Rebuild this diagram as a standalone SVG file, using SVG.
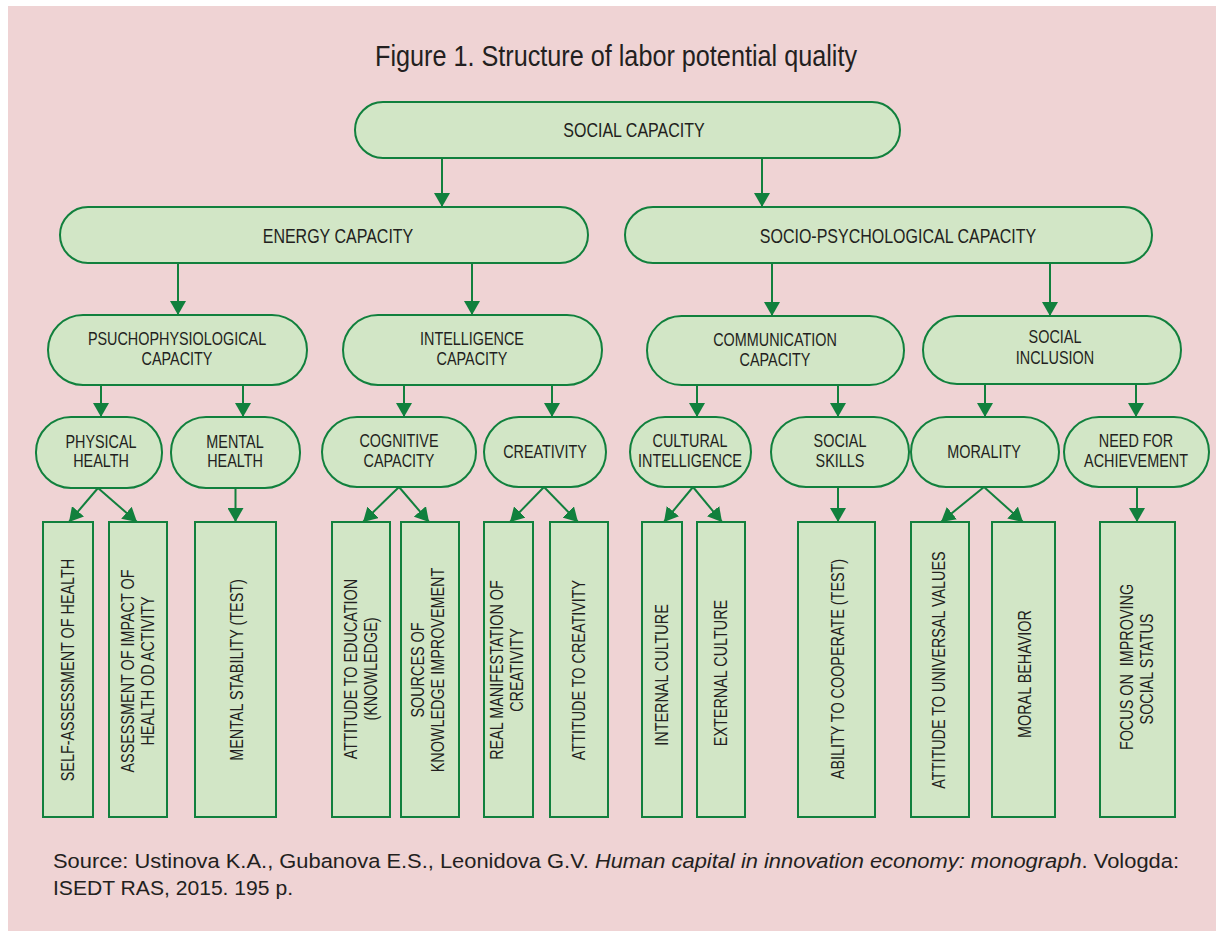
<svg xmlns="http://www.w3.org/2000/svg" width="1216" height="931" viewBox="0 0 1216 931">
<defs>
<style>
.bg{fill:#efd3d4}
.n{fill:#d2e6c6;stroke:#11803d;stroke-width:2}
.t{font-family:"Liberation Sans",Arial,Helvetica,sans-serif;font-size:18px;fill:#231f20;text-anchor:middle}
.t0{font-size:20px}
.c{stroke:#11803d;stroke-width:2;fill:none;marker-end:url(#ah)}
.src{font-family:"Liberation Sans",Arial,Helvetica,sans-serif;font-size:20.5px;fill:#231f20}
</style>
<marker id="ah" viewBox="0 0 14 16" refX="14" refY="8" markerWidth="14" markerHeight="16" markerUnits="userSpaceOnUse" orient="auto">
<path d="M0,0 L14,8 L0,16 z" fill="#11803d"/>
</marker>
</defs>
<rect x="0" y="0" width="1216" height="931" fill="#ffffff"/>
<rect class="bg" x="8" y="6" width="1208" height="925"/>
<text class="t" style="font-size:29px" x="616" y="66" textLength="482" lengthAdjust="spacingAndGlyphs">Figure 1. Structure of labor potential quality</text>

<g id="connectors">
<line class="c" x1="442" y1="158" x2="442" y2="207"/>
<line class="c" x1="762" y1="158" x2="762" y2="207"/>
<line class="c" x1="178" y1="263" x2="178" y2="315"/>
<line class="c" x1="472" y1="263" x2="472" y2="315"/>
<line class="c" x1="772" y1="263" x2="772" y2="316"/>
<line class="c" x1="1050" y1="263" x2="1050" y2="316"/>
<line class="c" x1="101" y1="385" x2="101" y2="417"/>
<line class="c" x1="243" y1="385" x2="243" y2="417"/>
<line class="c" x1="404" y1="385" x2="404" y2="417"/>
<line class="c" x1="552" y1="385" x2="552" y2="417"/>
<line class="c" x1="697" y1="385" x2="697" y2="417"/>
<line class="c" x1="838" y1="385" x2="838" y2="417"/>
<line class="c" x1="985" y1="384" x2="985" y2="417"/>
<line class="c" x1="1136" y1="384" x2="1136" y2="417"/>
<line class="c" x1="98" y1="488" x2="69" y2="522"/>
<line class="c" x1="98" y1="488" x2="137" y2="522"/>
<line class="c" x1="235.5" y1="488" x2="235.5" y2="522"/>
<line class="c" x1="399" y1="487" x2="363" y2="522"/>
<line class="c" x1="399" y1="487" x2="429" y2="522"/>
<line class="c" x1="544" y1="487" x2="510" y2="522"/>
<line class="c" x1="544" y1="487" x2="578" y2="522"/>
<line class="c" x1="693" y1="487" x2="664" y2="522"/>
<line class="c" x1="693" y1="487" x2="722" y2="522"/>
<line class="c" x1="838" y1="487" x2="838" y2="522"/>
<line class="c" x1="984" y1="487" x2="941" y2="522"/>
<line class="c" x1="984" y1="487" x2="1023" y2="522"/>
<line class="c" x1="1137" y1="487" x2="1137" y2="522"/>
</g>

<g id="social-capacity"><rect class="n" x="355" y="102" width="545" height="56" rx="28"/>
<text class="t t0" transform="translate(634,137) scale(0.8,1)">SOCIAL CAPACITY</text></g>

<g id="energy-capacity"><rect class="n" x="60" y="207" width="528" height="56" rx="28"/>
<text class="t t0" transform="translate(338,243) scale(0.8,1)">ENERGY CAPACITY</text></g>

<g id="socio-psychological-capacity"><rect class="n" x="625" y="207" width="527" height="56" rx="28"/>
<text class="t t0" transform="translate(898,243) scale(0.8,1)">SOCIO-PSYCHOLOGICAL CAPACITY</text></g>

<g id="psuchophysiological-capacity"><rect class="n" x="48" y="315" width="259" height="70" rx="35"/>
<text class="t" transform="translate(177,345) scale(0.8,1)">PSUCHOPHYSIOLOGICAL</text>
<text class="t" transform="translate(177,365) scale(0.8,1)">CAPACITY</text></g>

<g id="intelligence-capacity"><rect class="n" x="343" y="315" width="259" height="70" rx="35"/>
<text class="t" transform="translate(472,345) scale(0.8,1)">INTELLIGENCE</text>
<text class="t" transform="translate(472,365) scale(0.8,1)">CAPACITY</text></g>

<g id="communication-capacity"><rect class="n" x="647" y="316" width="257" height="69" rx="34.5"/>
<text class="t" transform="translate(775,346) scale(0.8,1)">COMMUNICATION</text>
<text class="t" transform="translate(775,366) scale(0.8,1)">CAPACITY</text></g>

<g id="social-inclusion"><rect class="n" x="923" y="316" width="258" height="68" rx="34"/>
<text class="t" transform="translate(1055,343) scale(0.8,1)">SOCIAL</text>
<text class="t" transform="translate(1055,364) scale(0.8,1)">INCLUSION</text></g>

<g id="physical-health"><rect class="n" x="36" y="417" width="126" height="71" rx="35"/>
<text class="t" transform="translate(101,448) scale(0.8,1)">PHYSICAL</text>
<text class="t" transform="translate(101,467) scale(0.8,1)">HEALTH</text></g>

<g id="mental-health"><rect class="n" x="171" y="417" width="129" height="71" rx="35"/>
<text class="t" transform="translate(235,448) scale(0.8,1)">MENTAL</text>
<text class="t" transform="translate(235,467) scale(0.8,1)">HEALTH</text></g>

<g id="cognitive-capacity"><rect class="n" x="322" y="417" width="154" height="70" rx="35"/>
<text class="t" transform="translate(399,447) scale(0.8,1)">COGNITIVE</text>
<text class="t" transform="translate(399,467) scale(0.8,1)">CAPACITY</text></g>

<g id="creativity"><rect class="n" x="484" y="417" width="122" height="70" rx="35"/>
<text class="t" transform="translate(545,458) scale(0.8,1)">CREATIVITY</text></g>

<g id="cultural-intelligence"><rect class="n" x="630" y="417" width="121" height="70" rx="35"/>
<text class="t" transform="translate(690,447) scale(0.8,1)">CULTURAL</text>
<text class="t" transform="translate(690,467) scale(0.8,1)">INTELLIGENCE</text></g>

<g id="social-skills"><rect class="n" x="771" y="417" width="138" height="70" rx="35"/>
<text class="t" transform="translate(840,447) scale(0.8,1)">SOCIAL</text>
<text class="t" transform="translate(840,467) scale(0.8,1)">SKILLS</text></g>

<g id="morality"><rect class="n" x="911" y="417" width="148" height="70" rx="35"/>
<text class="t" transform="translate(984,458) scale(0.8,1)">MORALITY</text></g>

<g id="need-for-achievement"><rect class="n" x="1064" y="417" width="145" height="70" rx="35"/>
<text class="t" transform="translate(1136,447) scale(0.8,1)">NEED FOR</text>
<text class="t" transform="translate(1136,467) scale(0.8,1)">ACHIEVEMENT</text></g>

<g id="self-assessment"><rect class="n" x="43" y="522" width="50" height="295"/>
<text class="t" transform="translate(74,670) rotate(-90) scale(0.8,1)">SELF-ASSESSMENT OF HEALTH</text></g>

<g id="assessment-impact"><rect class="n" x="109" y="522" width="58" height="295"/>
<text class="t" transform="translate(134,671) rotate(-90) scale(0.8,1)">ASSESSMENT OF IMPACT OF</text>
<text class="t" transform="translate(154,671) rotate(-90) scale(0.8,1)">HEALTH OD ACTIVITY</text></g>

<g id="mental-stability"><rect class="n" x="195" y="522" width="81" height="295"/>
<text class="t" transform="translate(243,670) rotate(-90) scale(0.8,1)">MENTAL STABILITY (TEST)</text></g>

<g id="attitude-education"><rect class="n" x="332" y="522" width="58" height="295"/>
<text class="t" transform="translate(357,669) rotate(-90) scale(0.8,1)">ATTITUDE TO EDUCATION</text>
<text class="t" transform="translate(377,669) rotate(-90) scale(0.8,1)">(KNOWLEDGE)</text></g>

<g id="sources-knowledge"><rect class="n" x="401" y="522" width="58" height="295"/>
<text class="t" transform="translate(424,670) rotate(-90) scale(0.8,1)">SOURCES OF</text>
<text class="t" transform="translate(444,670) rotate(-90) scale(0.8,1)">KNOWLEDGE IMPROVEMENT</text></g>

<g id="real-manifestation"><rect class="n" x="484" y="522" width="49" height="295"/>
<text class="t" transform="translate(503,670) rotate(-90) scale(0.8,1)">REAL MANIFESTATION OF</text>
<text class="t" transform="translate(523,670) rotate(-90) scale(0.8,1)">CREATIVITY</text></g>

<g id="attitude-creativity"><rect class="n" x="550" y="522" width="58" height="295"/>
<text class="t" transform="translate(585,670) rotate(-90) scale(0.8,1)">ATTITUDE TO CREATIVITY</text></g>

<g id="internal-culture"><rect class="n" x="642" y="522" width="40" height="295"/>
<text class="t" transform="translate(668,675) rotate(-90) scale(0.8,1)">INTERNAL CULTURE</text></g>

<g id="external-culture"><rect class="n" x="697" y="522" width="48" height="295"/>
<text class="t" transform="translate(727,673) rotate(-90) scale(0.8,1)">EXTERNAL CULTURE</text></g>

<g id="ability-cooperate"><rect class="n" x="798" y="522" width="77" height="295"/>
<text class="t" transform="translate(844,669) rotate(-90) scale(0.8,1)">ABILITY TO COOPERATE (TEST)</text></g>

<g id="attitude-universal"><rect class="n" x="911" y="522" width="58" height="295"/>
<text class="t" transform="translate(945,670) rotate(-90) scale(0.8,1)">ATTITUDE TO UNIVERSAL VALUES</text></g>

<g id="moral-behavior"><rect class="n" x="992" y="522" width="63" height="295"/>
<text class="t" transform="translate(1031,674) rotate(-90) scale(0.8,1)">MORAL BEHAVIOR</text></g>

<g id="focus-status"><rect class="n" x="1100" y="522" width="75" height="295"/>
<text class="t" xml:space="preserve" transform="translate(1133,667) rotate(-90) scale(0.8,1)">FOCUS ON  IMPROVING</text>
<text class="t" transform="translate(1153,669) rotate(-90) scale(0.8,1)">SOCIAL STATUS</text></g>

<text class="src" x="53" y="868" textLength="1126" lengthAdjust="spacingAndGlyphs">Source: Ustinova K.A., Gubanova E.S., Leonidova G.V. <tspan font-style="italic">Human capital in innovation economy: monograph</tspan>. Vologda:</text>
<text class="src" x="53" y="895" textLength="240" lengthAdjust="spacingAndGlyphs">ISEDT RAS, 2015. 195 p.</text>
</svg>
